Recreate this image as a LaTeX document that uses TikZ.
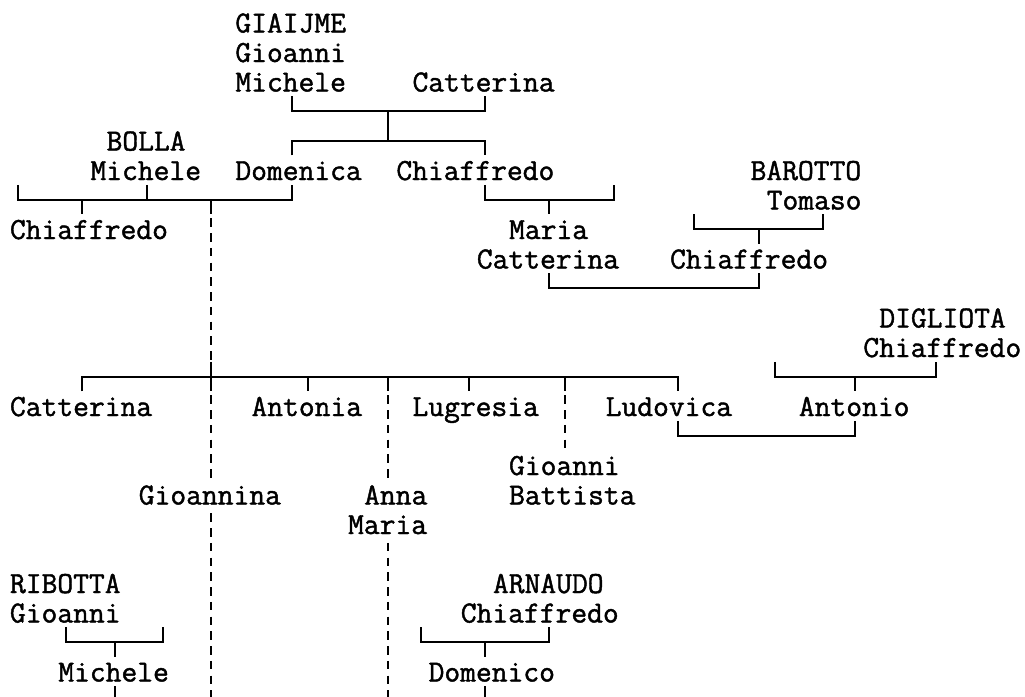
\documentclass[tikz,border=0pt]{standalone}
\usepackage{fontspec}
\newfontfamily\treefont[FakeBold=1.4]{Latin Modern Mono}
\usetikzlibrary{calc}
\tikzset{
  lbl/.style={font=\treefont\fontsize{30.67pt}{36pt}\selectfont, inner sep=0pt, outer sep=0pt,
              anchor=west, text height=24.75pt, text depth=4.75pt},
  conn/.style={line width=2pt, black},
  dashconn/.style={line width=2pt, black, dash pattern=on 8.5pt off 6.25pt, dash phase=10.75pt}
}
\begin{document}
\begin{tikzpicture}[x=16.1pt,y=-29.5pt]
\fill[white] (0pt,0pt) rectangle (1025pt,-696pt);
\useasboundingbox (0pt,0pt) rectangle (1025pt,-696pt);
\begin{scope}[shift={(18.05pt,-22.5pt)}]
% ---------- labels ----------
\node[lbl] (giaijme)      at (13.5,0)  {GIAIJME};
\node[lbl] (giaijmeB)     at (13.5,1)  {Gioanni};
\node[lbl] (michele0)     at (13.5,2)  {Michele};
\node[lbl] (catterina0)   at (24.5,2)  {Catterina};
\node[lbl] (bolla)        at (5.5,4)   {BOLLA};
\node[lbl] (michele5)     at (4.5,5)   {Michele};
\node[lbl] (domenica)     at (13.5,5)  {Domenica};
\node[lbl] (chiaffredo5)  at (23.5,5)  {Chiaffredo};
\node[lbl] (barotto)      at (45.5,5)  {BAROTTO};
\node[lbl] (tomaso)       at (46.5,6)  {Tomaso};
\node[lbl] (chiaffredo7)  at (-0.5,7)  {Chiaffredo};
\node[lbl] (maria7)       at (30.5,7)  {Maria};
\node[lbl] (catterina8)   at (28.5,8)  {Catterina};
\node[lbl] (chiaffredo8)  at (40.5,8)  {Chiaffredo};
\node[lbl] (digliota)     at (53.5,10) {DIGLIOTA};
\node[lbl] (chiaffredo11) at (52.5,11) {Chiaffredo};
\node[lbl] (catterina13)  at (-0.5,13) {Catterina};
\node[lbl] (antonia)      at (14.5,13) {Antonia};
\node[lbl] (lugresia)     at (24.5,13) {Lugresia};
\node[lbl] (ludovica)     at (36.5,13) {Ludovica};
\node[lbl] (antonio)      at (48.5,13) {Antonio};
\node[lbl] (gioanni15)    at (30.5,15) {Gioanni};
\node[lbl] (gioannina)    at (7.5,16)  {Gioannina};
\node[lbl] (anna)         at (21.5,16) {Anna};
\node[lbl] (battista)     at (30.5,16) {Battista};
\node[lbl] (maria17)      at (20.5,17) {Maria};
\node[lbl] (ribotta)      at (-0.5,19) {RIBOTTA};
\node[lbl] (arnaudo)      at (29.5,19) {ARNAUDO};
\node[lbl] (gioanni20)    at (-0.5,20) {Gioanni};
\node[lbl] (chiaffredo20) at (27.5,20) {Chiaffredo};
\node[lbl] (michele22)    at (2.5,22)  {Michele};
\node[lbl] (domenico)     at (25.5,22) {Domenico};
% ---------- junction coordinates ----------
\coordinate (a1) at (17,3);  \coordinate (b1) at (29,3);  \coordinate (m1) at (23,3); \coordinate (n1) at (23,4);
\coordinate (a2) at (17,4);  \coordinate (b2) at (29,4);
\coordinate (a3) at (0,6);   \coordinate (b3) at (17,6);  \coordinate (c3) at (4,6);  \coordinate (d3) at (8,6); \coordinate (e3) at (12,6);
\coordinate (a4) at (29,6);  \coordinate (b4) at (37,6);  \coordinate (c4) at (33,6);
\coordinate (a5) at (42,7);  \coordinate (b5) at (50,7);  \coordinate (c5) at (46,7);
\coordinate (a6) at (33,9);  \coordinate (b6) at (46,9);
\coordinate (a7) at (4,12);  \coordinate (b7) at (41,12); \coordinate (f7) at (12,12);
\coordinate (t18) at (18,12); \coordinate (t23) at (23,12); \coordinate (t28) at (28,12); \coordinate (t34) at (34,12);
\coordinate (a8) at (47,12); \coordinate (b8) at (57,12); \coordinate (c8) at (52,12);
\coordinate (a9) at (41,14); \coordinate (b9) at (52,14);
\coordinate (a10) at (3,21); \coordinate (b10) at (9,21); \coordinate (c10) at (6,21);
\coordinate (a11) at (25,21); \coordinate (b11) at (33,21); \coordinate (c11) at (29,21);
\coordinate (bot) at (0,23.2);
% ---------- connectors ----------
% GIAIJME Michele + Catterina
\draw[conn] (a1 |- michele0.south) -- (a1) -- (b1) -- (b1 |- catterina0.south);
\draw[conn] (m1) -- (n1);
\draw[conn] (a2 |- domenica.north) -- (a2) -- (b2) -- (b2 |- chiaffredo5.north);
% BOLLA Michele + Domenica
\draw[conn] (a3 |- michele5.south) -- (a3) -- (b3) -- (b3 |- domenica.south);
\draw[conn] (d3 |- michele5.south) -- (d3);
\draw[conn] (c3) -- (c3 |- chiaffredo7.north);
\draw[conn] (e3) -- (e3 |- chiaffredo7.north);
\draw[dashconn] (e3 |- chiaffredo7.north) -- (f7 |- chiaffredo11.south);
\draw[conn] (f7 |- chiaffredo11.south) -- (f7 |- catterina13.north);
\draw[dashconn] (f7 |- catterina13.north) -- (f7 |- gioannina.north);
\draw[dashconn] (f7 |- gioannina.south) -- (f7 |- bot);
% Chiaffredo -> Maria Catterina
\draw[conn] (a4 |- chiaffredo5.south) -- (a4) -- (b4) -- (b4 |- chiaffredo5.south);
\draw[conn] (c4) -- (c4 |- maria7.north);
% BAROTTO Tomaso
\draw[conn] (a5 |- tomaso.south) -- (a5) -- (b5) -- (b5 |- tomaso.south);
\draw[conn] (c5) -- (c5 |- chiaffredo8.north);
% Maria Catterina + Chiaffredo
\draw[conn] (a6 |- catterina8.south) -- (a6) -- (b6) -- (b6 |- chiaffredo8.south);
% big sibling line
\draw[conn] (a7 |- catterina13.north) -- (a7) -- (b7) -- (b7 |- ludovica.north);
\draw[conn] (t18) -- (t18 |- antonia.north);
\draw[conn] (t23) -- (t23 |- antonia.north);
\draw[dashconn] (t23 |- antonia.north) -- (t23 |- anna.north);
\draw[dashconn] (t23 |- maria17.south) -- (t23 |- bot);
\draw[conn] (t28) -- (t28 |- lugresia.north);
\draw[conn] (t34) -- (t34 |- lugresia.north);
\draw[dashconn] (t34 |- lugresia.north) -- (t34 |- gioanni15.north);
% DIGLIOTA Chiaffredo
\draw[conn] (a8 |- chiaffredo11.south) -- (a8) -- (b8) -- (b8 |- chiaffredo11.south);
\draw[conn] (c8) -- (c8 |- antonio.north);
% Ludovica + Antonio
\draw[conn] (a9 |- ludovica.south) -- (a9) -- (b9) -- (b9 |- antonio.south);
% RIBOTTA Gioanni
\draw[conn] (a10 |- gioanni20.south) -- (a10) -- (b10) -- (b10 |- gioanni20.south);
\draw[conn] (c10) -- (c10 |- michele22.north);
\draw[conn] (c10 |- michele22.south) -- (c10 |- bot);
% ARNAUDO Chiaffredo
\draw[conn] (a11 |- chiaffredo20.south) -- (a11) -- (b11) -- (b11 |- chiaffredo20.south);
\draw[conn] (c11) -- (c11 |- domenico.north);
\draw[conn] (c11 |- domenico.south) -- (c11 |- bot);
\end{scope}
\end{tikzpicture}
\end{document}
